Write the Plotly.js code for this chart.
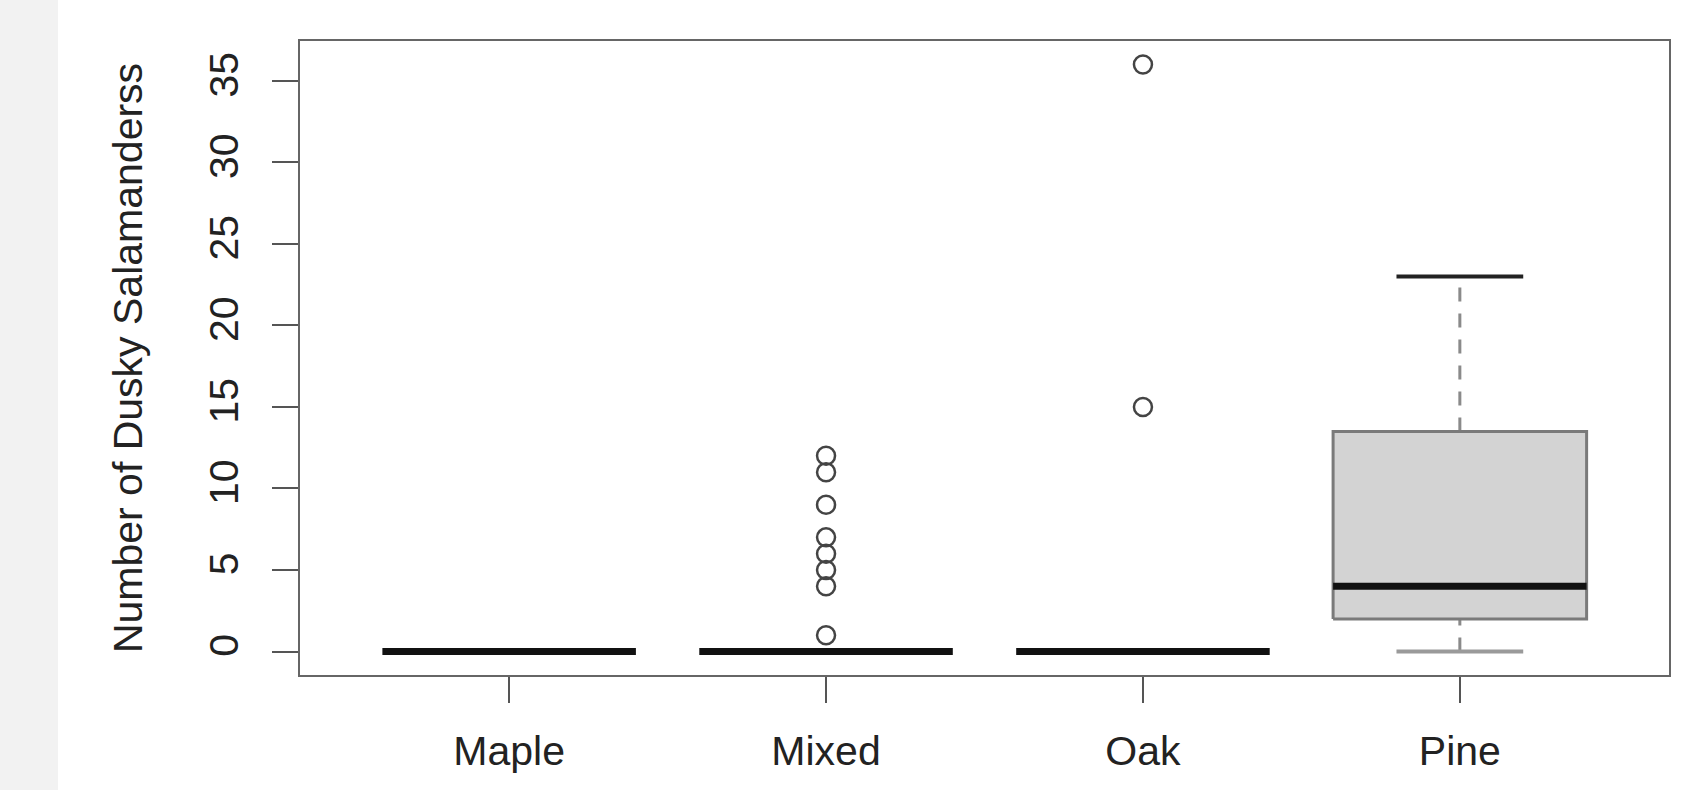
<!DOCTYPE html>
<html>
<head>
<meta charset="utf-8">
<script src="https://cdn.plot.ly/plotly-3.0.1.min.js"></script>
<style>
  html, body { margin: 0; padding: 0; }
  body { width: 1698px; height: 790px; background: linear-gradient(to right, #f2f2f2 58px, #ffffff 58px); overflow: hidden; }
  #chart { width: 1698px; height: 790px; }
</style>
</head>
<body>
<div id="chart"></div>
<script>
// ---- Data ----
const categories    = ['Maple', 'Mixed', 'Oak', 'Pine'];
const lowerWhisker  = [0, 0, 0, 0];
const q1            = [0, 0, 0, 2];
const median        = [0, 0, 0, 4];
const q3            = [0, 0, 0, 13.5];
const upperWhisker  = [0, 0, 0, 23];
const mapleOutliers = [];
const mixedOutliers = [1, 4, 5, 6, 7, 9, 11, 12];
const oakOutliers   = [15, 36];
const pineOutliers  = [];
const yTickValues   = [0, 5, 10, 15, 20, 25, 30, 35];
const yTitle        = 'Number of Dusky Salamanderss';

// ---- Styling ----
const boxHalf = 0.4;     // R boxwex 0.8
const capHalf = 0.2;     // staplewex 0.5
const FONT = 'Liberation Sans, Arial, Helvetica, sans-serif';

const outliers = [mapleOutliers, mixedOutliers, oakOutliers, pineOutliers];
const traces = [];

categories.forEach((cat, i) => {
  const x = i + 1;
  // whiskers (dashed)
  if (upperWhisker[i] > q3[i]) {
    traces.push({x: [x, x], y: [q3[i], upperWhisker[i]], mode: 'lines',
      line: {color: '#8a8a8a', width: 3, dash: '14px,12px'}, hoverinfo: 'skip'});
  }
  if (lowerWhisker[i] < q1[i]) {
    traces.push({x: [x, x], y: [lowerWhisker[i], q1[i]], mode: 'lines',
      line: {color: '#8a8a8a', width: 3, dash: '14px,12px'}, hoverinfo: 'skip'});
  }
  // box
  if (q3[i] > q1[i]) {
    traces.push({
      x: [x - boxHalf, x + boxHalf, x + boxHalf, x - boxHalf, x - boxHalf],
      y: [q1[i], q1[i], q3[i], q3[i], q1[i]],
      mode: 'lines', fill: 'toself', fillcolor: '#d3d3d3',
      line: {color: '#7a7a7a', width: 3}, hoverinfo: 'skip'
    });
  }
  // staples
  if (upperWhisker[i] > q3[i]) {
    traces.push({x: [x - capHalf, x + capHalf], y: [upperWhisker[i], upperWhisker[i]], mode: 'lines',
      line: {color: '#222222', width: 4}, hoverinfo: 'skip'});
  }
  if (lowerWhisker[i] < q1[i]) {
    traces.push({x: [x - capHalf, x + capHalf], y: [lowerWhisker[i], lowerWhisker[i]], mode: 'lines',
      line: {color: '#9a9a9a', width: 4}, hoverinfo: 'skip'});
  }
  // median
  traces.push({x: [x - boxHalf, x + boxHalf], y: [median[i], median[i]], mode: 'lines',
    line: {color: '#111111', width: 7}, hoverinfo: 'skip'});
  // outliers
  if (outliers[i].length) {
    traces.push({x: outliers[i].map(() => x), y: outliers[i], mode: 'markers',
      marker: {symbol: 'circle-open', size: 18, color: '#444444', line: {width: 2.5, color: '#444444'}},
      hoverinfo: 'skip'});
  }
});

const yMin = 0, yMax = 36, pad = (yMax - yMin) * 0.04;
const xPad = 4 * 0.04;

const layout = {
  width: 1698, height: 790,
  margin: {l: 300, r: 29, t: 41, b: 115, pad: 0},
  paper_bgcolor: 'rgba(0,0,0,0)',
  plot_bgcolor: '#ffffff',
  showlegend: false,
  font: {family: FONT, size: 41, color: '#222222'},
  xaxis: {
    range: [0.5 - xPad, 4.5 + xPad],
    tickmode: 'array', tickvals: categories.map((c, i) => i + 1), ticktext: categories,
    ticks: 'outside', ticklen: 26, tickwidth: 2, tickcolor: '#555555',
    showline: true, mirror: true, linecolor: '#666666', linewidth: 2,
    showgrid: false, zeroline: false,
    tickfont: {family: FONT, size: 41, color: '#222222'},
    ticklabelstandoff: 13
  },
  yaxis: {
    range: [yMin - pad, yMax + pad],
    tickmode: 'array', tickvals: yTickValues, ticktext: yTickValues.map(String),
    tickangle: -90,
    ticks: 'outside', ticklen: 26, tickwidth: 2, tickcolor: '#555555',
    showline: true, mirror: true, linecolor: '#666666', linewidth: 2,
    showgrid: false, zeroline: false,
    tickfont: {family: FONT, size: 41, color: '#222222'},
    ticklabelstandoff: 18,
    title: {text: yTitle, font: {family: FONT, size: 41, color: '#222222'}, standoff: 45}
  }
};

Plotly.newPlot('chart', traces, layout, {staticPlot: true, displayModeBar: false});
</script>
</body>
</html>
